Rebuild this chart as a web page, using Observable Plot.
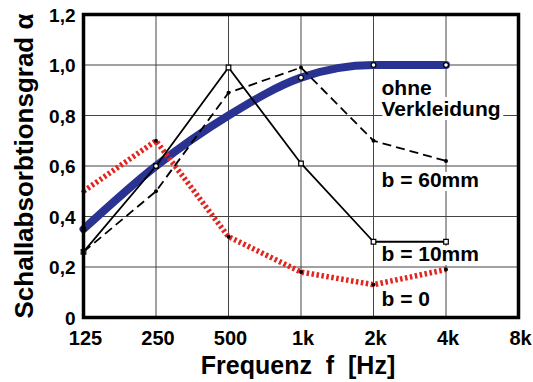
<!DOCTYPE html>
<html>
<head>
<meta charset="utf-8">
<script src="https://cdn.jsdelivr.net/npm/d3@7"></script>
<script src="https://cdn.jsdelivr.net/npm/@observablehq/plot@0.6"></script>
<style>
  html, body { margin: 0; padding: 0; background: #fff; }
  #chart { width: 533px; height: 382px; }
</style>
</head>
<body>
<div id="chart"></div>
<script>
// ---- data ----
const freqs = [125, 250, 500, 1000, 2000, 4000];
const ohne  = [0.35, 0.60, 0.80, 0.95, 1.00, 1.00];
const b10   = [0.26, 0.60, 0.99, 0.61, 0.30, 0.30];
const b60   = [0.26, 0.50, 0.89, 0.99, 0.70, 0.62];
const b0    = [0.50, 0.70, 0.32, 0.18, 0.13, 0.19];
const ohneMarked = [true, true, false, true, true, true];

const xTicks = [125, 250, 500, 1000, 2000, 4000, 8000];
const xTickLabels = ["125", "250", "500", "1k", "2k", "4k", "8k"];
const yTicks = [0, 0.2, 0.4, 0.6, 0.8, 1.0, 1.2];
const yTickLabels = ["0", "0,2", "0,4", "0,6", "0,8", "1,0", "1,2"];

const xTitle = "Frequenz\u00a0\u00a0f\u00a0\u00a0[Hz]";
const yTitle = "Schallabsorbtionsgrad α";

const seriesNames = ["ohne\nVerkleidung", "b = 60mm", "b = 10mm", "b = 0"];
const labelY = [0.80, 0.515, 0.222, 0.044];   // baseline of each series label (data units)

// ---- build tables ----
const rows = (vals) => freqs.map((f, i) => ({f, v: vals[i], i}));
const ohneRows = rows(ohne);
const b10Rows = rows(b10);
const b60Rows = rows(b60);
const b0Rows = rows(b0);
const labelRows = seriesNames.map((t, i) => ({t, y: labelY[i], x: 2000}));

const BLUE = "#2a3392";
const RED = "#e3241f";

const chart = Plot.plot({
  width: 533,
  height: 382,
  marginLeft: 83,
  marginRight: 15,
  marginTop: 14,
  marginBottom: 65,
  style: {fontFamily: "'Liberation Sans', Arial, Helvetica, sans-serif", fontWeight: "bold", background: "#fff"},
  x: {type: "log", base: 2, domain: [125, 8000]},
  y: {domain: [0, 1.2]},
  marks: [
    Plot.gridX(xTicks, {stroke: "#444", strokeOpacity: 1, strokeWidth: 1}),
    Plot.gridY(yTicks, {stroke: "#444", strokeOpacity: 1, strokeWidth: 1}),
    Plot.axisX(xTicks, {tickSize: 0, tickPadding: 13, fontSize: 20, dx: 2,
      tickFormat: d => xTickLabels[xTicks.indexOf(d)], label: null}),
    Plot.axisY(yTicks, {tickSize: 0, tickPadding: 8, fontSize: 19, dy: 1,
      tickFormat: d => yTickLabels[yTicks.indexOf(d)], label: null}),
    Plot.text([xTitle], {frameAnchor: "bottom", lineAnchor: "middle", textAnchor: "middle",
      dy: 48, dx: -3, fontSize: 25, fill: "black"}),
    Plot.text([yTitle], {frameAnchor: "left", rotate: -90, lineAnchor: "bottom", textAnchor: "middle",
      dx: -51, fontSize: 26, fill: "black"}),
    // series labels with white background halo
    Plot.text(labelRows, {x: "x", y: "y", text: "t", dx: 8, textAnchor: "start", lineAnchor: "bottom",
      lineHeight: 1.0, fontSize: 21, fill: "black", stroke: "white", strokeWidth: 8, strokeLinejoin: "round"}),
    // lines
    Plot.line(ohneRows, {x: "f", y: "v", stroke: BLUE, strokeWidth: 8, curve: "monotone-x"}),
    Plot.line(b0Rows, {x: "f", y: "v", stroke: RED, strokeWidth: 5.5, strokeDasharray: "2.5 2.5",
      strokeLinecap: "butt", strokeLinejoin: "miter"}),
    Plot.line(b60Rows, {x: "f", y: "v", stroke: "black", strokeWidth: 1.8, strokeDasharray: "9 5", strokeLinecap: "butt"}),
    Plot.line(b10Rows, {x: "f", y: "v", stroke: "black", strokeWidth: 1.8}),
    // markers
    Plot.dot(b0Rows, {x: "f", y: "v", r: 2, fill: "black"}),
    Plot.dot(b60Rows, {x: "f", y: "v", r: 2, fill: "black"}),
    Plot.dot(b10Rows, {x: "f", y: "v", symbol: "square", r: 2.6, fill: "white", stroke: "black", strokeWidth: 1.2}),
    Plot.dot(ohneRows.filter(d => ohneMarked[d.i]), {x: "f", y: "v", r: 2.4, fill: "white", stroke: "black", strokeWidth: 1.2}),
    Plot.frame({stroke: "black", strokeWidth: 3.5})
  ]
});
document.getElementById("chart").appendChild(chart);
</script>
</body>
</html>
